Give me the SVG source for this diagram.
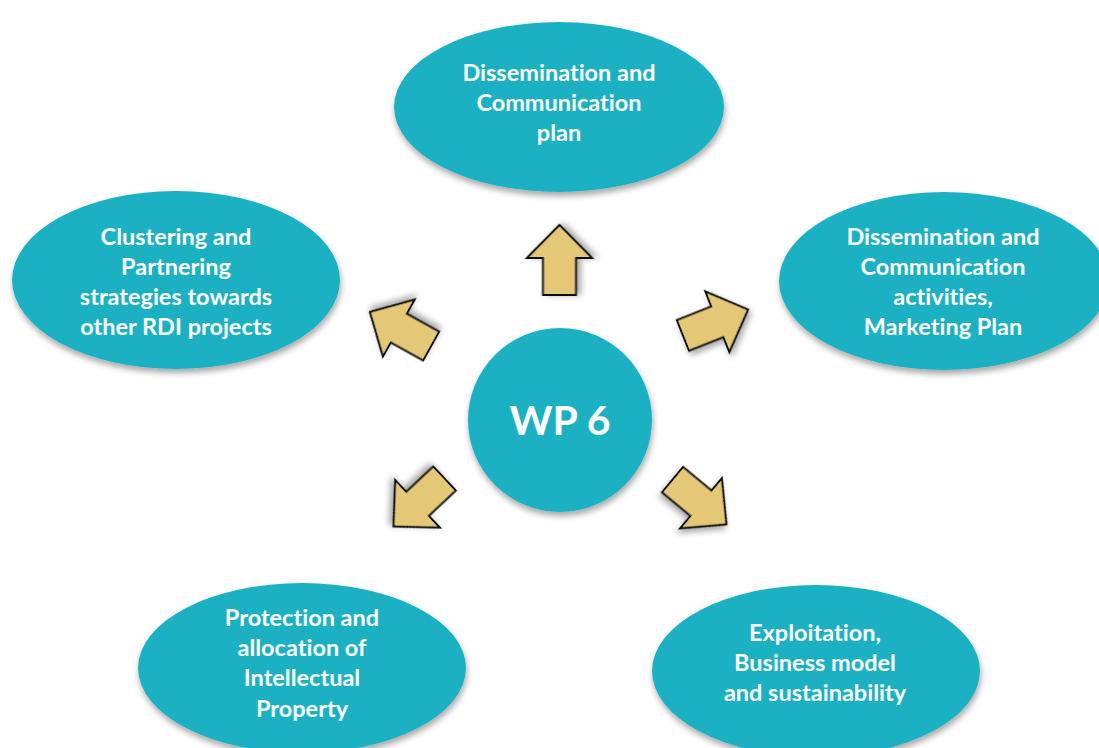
<svg xmlns="http://www.w3.org/2000/svg" xmlns:xlink="http://www.w3.org/1999/xlink" width="1099" height="748" viewBox="0 0 1099 748">
  <style>
    .node { fill: #1EB1C2; filter: url(#shadow); }
    .label { fill: #ffffff; font-family: Lato, "Open Sans", "Liberation Sans", sans-serif; font-weight: bold; font-size: 23.5px; text-anchor: middle; font-variant-ligatures: none; }
    .hub { font-size: 41px; }
    .arrow { fill: #E5C877; stroke: #111111; stroke-width: 2; stroke-linejoin: miter; filter: url(#shadow); }
  </style>
  <defs>
    <filter id="shadow" x="-20%" y="-20%" width="140%" height="150%">
      <feDropShadow dx="1" dy="4" stdDeviation="3" flood-color="#000000" flood-opacity="0.35"/>
    </filter>
    <!-- block arrow pointing right, centred on the origin -->
    <path id="blockArrow" d="M 35 0 L 2 -32.5 L 2 -16.5 L -35 -16.5 L -35 16.5 L 2 16.5 L 2 32.5 Z"/>
  </defs>
  <rect width="1099" height="748" fill="#ffffff"/>

  <g id="connectors">
    <use xlink:href="#blockArrow" class="arrow" transform="translate(559.5 260) rotate(-90)"/>
    <use xlink:href="#blockArrow" class="arrow" transform="translate(715.5 322.5) rotate(-21.6)"/>
    <use xlink:href="#blockArrow" class="arrow" transform="translate(400.5 329) rotate(-150.9)"/>
    <use xlink:href="#blockArrow" class="arrow" transform="translate(419 502.5) rotate(136.8)"/>
    <use xlink:href="#blockArrow" class="arrow" transform="translate(699.5 502) rotate(39.7)"/>
  </g>

  <g id="wp6">
    <circle class="node" cx="560" cy="420" r="92"/>
    <text class="label hub" x="560" y="435">WP 6</text>
  </g>

  <g id="dissemination-plan">
    <ellipse class="node" cx="559" cy="107" rx="165" ry="85"/>
    <text class="label" x="559" y="81">Dissemination and</text>
    <text class="label" x="559" y="111">Communication</text>
    <text class="label" x="559" y="141">plan</text>
  </g>

  <g id="clustering">
    <ellipse class="node" cx="176" cy="280" rx="164" ry="89"/>
    <text class="label" x="176" y="245">Clustering and</text>
    <text class="label" x="176" y="275">Partnering</text>
    <text class="label" x="176" y="305">strategies towards</text>
    <text class="label" x="176" y="335">other RDI projects</text>
  </g>

  <g id="dissemination-activities">
    <ellipse class="node" cx="944" cy="281" rx="165" ry="89"/>
    <text class="label" x="943" y="245">Dissemination and</text>
    <text class="label" x="943" y="275">Communication</text>
    <text class="label" x="943" y="305">activities,</text>
    <text class="label" x="943" y="335">Marketing Plan</text>
  </g>

  <g id="ip-protection">
    <ellipse class="node" cx="302" cy="668" rx="164" ry="85"/>
    <text class="label" x="302" y="626">Protection and</text>
    <text class="label" x="302" y="656">allocation of</text>
    <text class="label" x="302" y="686">Intellectual</text>
    <text class="label" x="302" y="717">Property</text>
  </g>

  <g id="exploitation">
    <ellipse class="node" cx="816" cy="671" rx="164" ry="86"/>
    <text class="label" x="815" y="641">Exploitation,</text>
    <text class="label" x="815" y="671">Business model</text>
    <text class="label" x="815" y="701">and sustainability</text>
  </g>
</svg>
